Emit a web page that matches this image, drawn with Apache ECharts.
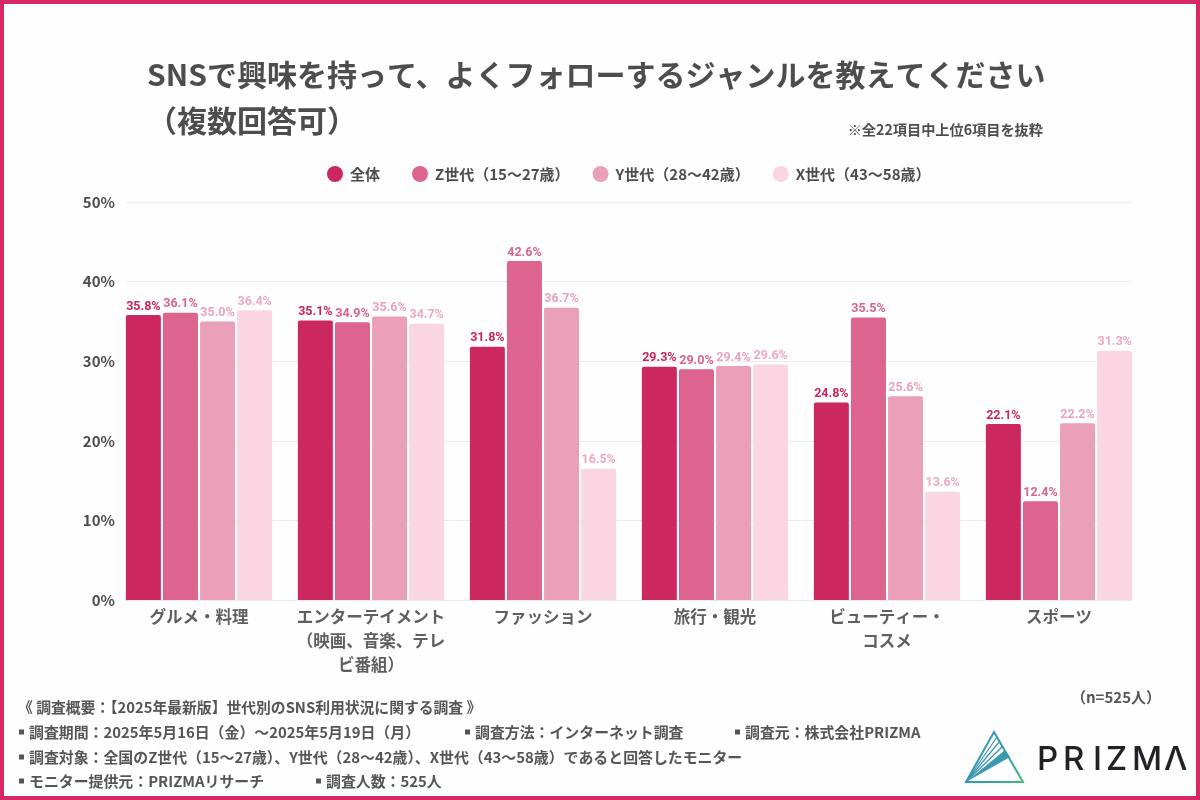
<!DOCTYPE html>
<html>
<head>
<meta charset="utf-8">
<style>
html, body { margin: 0; padding: 0; background: #fff; }
#chart { width: 1200px; height: 800px; }
</style>
<script src="https://cdn.jsdelivr.net/npm/echarts@6/dist/echarts.min.js"></script>
</head>
<body>
<div id="chart"></div>
<script>
var categories = ['グルメ・料理', 'エンターテイメント\n（映画、音楽、テレ\nビ番組）', 'ファッション', '旅行・観光', 'ビューティー・\nコスメ', 'スポーツ'];
var seriesNames = ['全体', 'Z世代（15～27歳）', 'Y世代（28～42歳）', 'X世代（43～58歳）'];
var allAges = [35.8, 35.1, 31.8, 29.3, 24.8, 22.1];
var genZ = [36.1, 34.9, 42.6, 29.0, 35.5, 12.4];
var genY = [35.0, 35.6, 36.7, 29.4, 25.6, 22.2];
var genX = [36.4, 34.7, 16.5, 29.6, 13.6, 31.3];
var titleText = 'SNSで興味を持って、よくフォローするジャンルを教えてください\n（複数回答可）';
var noteText = '※全22項目中上位6項目を抜粋';
var sampleText = '（n=525人）';
var footerHead = '《 調査概要：【2025年最新版】世代別のSNS利用状況に関する調査 》';
var footerRows = [
    ['調査期間：2025年5月16日（金）～2025年5月19日（月）', 18, 732],
    ['調査方法：インターネット調査', 464, 732],
    ['調査元：株式会社PRIZMA', 734, 732],
    ['調査対象：全国のZ世代（15～27歳）、Y世代（28～42歳）、X世代（43～58歳）であると回答したモニター', 18, 757],
    ['モニター提供元：PRIZMAリサーチ', 18, 781],
    ['調査人数：525人', 315, 781]
];
var logoLetters = [['P', 1037], ['R', 1063], ['I', 1093], ['Z', 1106], ['M', 1132], ['Λ', 1164]];

var jpFont = '"Noto Sans CJK JP", "Noto Sans", sans-serif';
var numFont = 'Roboto, sans-serif';
var barColors = ['#CB2860', '#DC648E', '#E9A0B8', '#FAD6E3'];
var labelColors = ['#C9265C', '#D9648C', '#EBA3BC', '#EFA9C1'];
var values = [allAges, genZ, genY, genX];

var chart = echarts.init(document.getElementById('chart'));

var series = seriesNames.map(function(name, i) {
    return {
        name: name,
        type: 'bar',
        xAxisIndex: 0,
        yAxisIndex: 0,
        data: values[i],
        barWidth: 35,
        barGap: '6%',
        itemStyle: { color: barColors[i], borderRadius: [2, 2, 0, 0] },
        label: {
            show: true,
            position: 'top',
            distance: 2,
            color: labelColors[i],
            fontFamily: numFont,
            fontSize: 12.5,
            fontWeight: 'bold',
            formatter: function(p) {
                return p.value.toFixed(1) + '%';
            }
        }
    };
});

var graphic = [{
    type: 'rect',
    silent: true,
    shape: { x: 2, y: 2, width: 1196, height: 796 },
    style: { fill: 'none', stroke: '#D62B62', lineWidth: 4 }
}, {
    type: 'text',
    style: { x: 1043, y: 130, text: noteText, align: 'right', verticalAlign: 'middle', fill: '#4D4D4D', font: '700 14.2px ' + jpFont }
}, {
    type: 'text',
    style: { x: 1161, y: 697, text: sampleText, align: 'right', verticalAlign: 'middle', fill: '#555555', font: '700 15px ' + jpFont }
}, {
    type: 'text',
    style: { x: 18, y: 707, text: footerHead, verticalAlign: 'middle', fill: '#555555', font: '700 14.8px ' + jpFont }
}];

footerRows.forEach(function(row) {
    // small square bullet, drawn apart so the text lines up with the reference
    graphic.push({
        type: 'rect',
        shape: { x: row[1] + 1, y: row[2] - 2.5, width: 5, height: 5 },
        style: { fill: '#555555' }
    });
    graphic.push({
        type: 'text',
        style: { x: row[1] + 11, y: row[2], text: row[0], verticalAlign: 'middle', fill: '#555555', font: '700 14.9px ' + jpFont }
    });
});

// logo
var logoStroke = new echarts.graphic.LinearGradient(0, 0, 1, 1, [
    { offset: 0, color: '#3D8FB0' },
    { offset: 0.6, color: '#2F9FB0' },
    { offset: 1, color: '#4DBB6E' }
]);
graphic.push({
    type: 'polygon',
    shape: { points: [[994, 732], [966, 782], [1023, 782]] },
    style: { fill: 'none', stroke: logoStroke, lineWidth: 2 }
});
graphic.push({
    type: 'polygon',
    shape: { points: [[966, 782], [1005, 750], [1010, 757]] },
    style: { fill: '#3A9AAE' }
});
[[997, 737], [1000, 741], [1003, 746]].forEach(function(p) {
    graphic.push({
        type: 'line',
        shape: { x1: 966, y1: 782, x2: p[0], y2: p[1] },
        style: { stroke: '#3A94AE', lineWidth: 1.2 }
    });
});
logoLetters.forEach(function(l) {
    graphic.push({
        type: 'text',
        style: { x: l[1], y: 760, text: l[0], verticalAlign: 'middle', fill: '#222226', font: '500 33px Inter, sans-serif' }
    });
});

var legendBase = {
    top: 161,
    icon: 'circle',
    itemWidth: 16,
    itemHeight: 16,
    itemGap: 23,
    textStyle: { color: '#4D4D4D', fontFamily: jpFont, fontSize: 15, fontWeight: 'bold', padding: [0, 0, 0, 2] }
};

var option = {
    backgroundColor: '#FEFEFF',
    animation: false,
    title: {
        text: titleText,
        left: 142,
        top: 47,
        textStyle: { color: '#4D4D4D', fontFamily: jpFont, fontSize: 30, fontWeight: 'bold', lineHeight: 46 }
    },
    legend: [
        Object.assign({}, legendBase, { left: 322, data: seriesNames.slice(0, 1) }),
        Object.assign({}, legendBase, { left: 407, data: seriesNames.slice(1) })
    ],
    grid: [
        { left: 113, width: 1032, top: 202, height: 398 },
        { left: 126, width: 1006, top: 202, height: 398 }
    ],
    xAxis: [{
        type: 'category',
        gridIndex: 0,
        data: categories,
        axisLine: { show: false },
        axisTick: { show: false },
        axisLabel: { interval: 0, color: '#5F5F5F', fontFamily: jpFont, fontSize: 16.5, fontWeight: 'bold', lineHeight: 24, margin: 5 }
    }, {
        type: 'value',
        gridIndex: 1,
        min: 0,
        max: 1,
        axisLine: { show: true, onZero: false, lineStyle: { color: '#ECE7EE', width: 1 } },
        axisTick: { show: false },
        axisLabel: { show: false },
        splitLine: { show: false }
    }],
    yAxis: [{
        type: 'value',
        gridIndex: 0,
        min: 0,
        max: 50,
        interval: 10,
        show: false
    }, {
        type: 'value',
        gridIndex: 1,
        min: 0,
        max: 50,
        interval: 10,
        axisLine: { show: false },
        axisTick: { show: false },
        axisLabel: { color: '#4D4D4D', fontFamily: jpFont, fontSize: 15, fontWeight: 'bold', margin: 11, formatter: '{value}%' },
        splitLine: { lineStyle: { color: '#EFEBF1', width: 1 } }
    }],
    graphic: graphic,
    series: series
};

chart.setOption(option);
</script>
</body>
</html>
